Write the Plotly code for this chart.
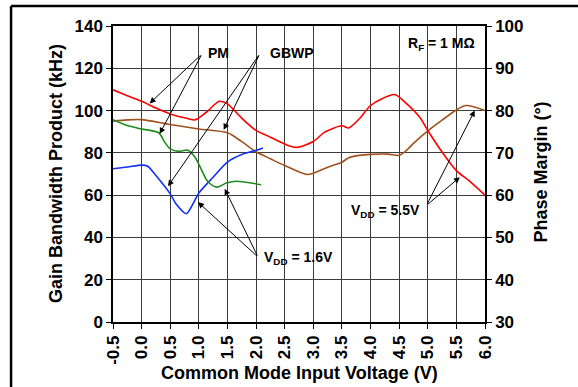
import plotly.graph_objects as go

# ---- data ----
# VDD = 5.5V, Phase Margin (deg, right axis) - red
pm55_x = [-0.5, -0.25, 0.0, 0.25, 0.5, 0.75, 0.93, 1.13, 1.36, 1.5, 1.75, 2.0, 2.25, 2.5, 2.7,
          3.0, 3.2, 3.5, 3.62, 3.8, 4.0, 4.2, 4.42, 4.6, 4.86, 5.0, 5.25, 5.5, 5.75, 6.0]
pm55_y = [84.9, 83.5, 82.2, 80.6, 79.2, 78.3, 77.8, 79.6, 82.2, 81.6, 78.2, 75.3, 73.7, 72.1, 71.3,
          72.7, 74.9, 76.4, 75.9, 78.0, 81.2, 82.8, 83.8, 82.0, 78.4, 75.3, 70.2, 65.8, 63.1, 60.0]

# VDD = 5.5V, GBWP (kHz, left axis) - brown
gb55_x = [-0.5, -0.25, 0.0, 0.5, 1.0, 1.5, 1.75, 2.0, 2.25, 2.5, 2.88, 3.0, 3.25, 3.5, 3.62,
          3.8, 4.0, 4.3, 4.5, 4.6, 4.75, 5.0, 5.25, 5.5, 5.67, 6.0]
gb55_y = [95.0, 95.6, 95.7, 93.4, 91.3, 89.5, 85.3, 80.5, 77.2, 74.0, 69.8, 70.4, 73.2, 75.6, 77.7,
          78.8, 79.3, 79.4, 78.8, 80.5, 84.5, 90.4, 95.5, 100.3, 102.4, 100.0]

# VDD = 1.6V, Phase Margin (deg, right axis) - green
pm16_x = [-0.5, -0.25, 0.0, 0.3, 0.4, 0.5, 0.65, 0.8, 0.93, 1.02, 1.16, 1.32, 1.48, 1.66, 2.09]
pm16_y = [77.85, 76.45, 75.65, 74.75, 72.6, 70.95, 70.35, 70.65, 69.0, 66.75, 63.15, 61.9, 62.85, 63.3, 62.45]

# VDD = 1.6V, GBWP (kHz, left axis) - blue
gb16_x = [-0.5, -0.25, 0.0, 0.1, 0.25, 0.5, 0.6, 0.78, 0.9, 1.0, 1.25, 1.5, 1.75, 2.0, 2.12]
gb16_y = [72.5, 73.3, 74.2, 73.8, 69.3, 60.6, 55.9, 51.2, 56.0, 61.0, 68.5, 75.6, 79.2, 81.2, 82.3]

x_ticks = [-0.5, 0.0, 0.5, 1.0, 1.5, 2.0, 2.5, 3.0, 3.5, 4.0, 4.5, 5.0, 5.5, 6.0]
x_ticklabels = ["-0.5", "0.0", "0.5", "1.0", "1.5", "2.0", "2.5", "3.0", "3.5", "4.0", "4.5", "5.0", "5.5", "6.0"]
left_ticks = [0, 20, 40, 60, 80, 100, 120, 140]
right_ticks = [30, 40, 50, 60, 70, 80, 90, 100]

FONT = "Liberation Sans, Arial, sans-serif"
GRID = "#3c3c3c"

fig = go.Figure()
fig.add_trace(go.Scatter(x=gb55_x, y=gb55_y, mode="lines", yaxis="y",
                         line=dict(color="#A0521E", width=1.6, shape="spline", smoothing=0.8)))
fig.add_trace(go.Scatter(x=gb16_x, y=gb16_y, mode="lines", yaxis="y",
                         line=dict(color="#1030F5", width=1.6, shape="spline", smoothing=0.8)))
fig.add_trace(go.Scatter(x=pm55_x, y=pm55_y, mode="lines", yaxis="y2",
                         line=dict(color="#FF0000", width=1.6, shape="spline", smoothing=0.8)))
fig.add_trace(go.Scatter(x=pm16_x, y=pm16_y, mode="lines", yaxis="y2",
                         line=dict(color="#1E8C1E", width=1.6, shape="spline", smoothing=0.8)))

tickfont = dict(family=FONT, size=17, color="black", weight="bold")

fig.update_layout(
    template="none",
    width=578, height=387,
    margin=dict(l=113, r=93, t=26, b=65, autoexpand=False),
    paper_bgcolor="white", plot_bgcolor="white",
    showlegend=False,
    font=dict(family=FONT, color="black"),
    xaxis=dict(range=[-0.5, 6.0], tickmode="array", tickvals=x_ticks, ticktext=x_ticklabels,
               tickangle=-90, tickfont=tickfont, ticks="outside", ticklen=5, tickcolor="black",
               showgrid=True, gridcolor=GRID, gridwidth=1, zeroline=False, automargin=False,
               showline=True, linecolor="black", linewidth=1.5, mirror=True),
    yaxis=dict(range=[0, 140], tickmode="array", tickvals=left_ticks, tickfont=tickfont,
               ticks="outside", ticklen=5, tickcolor="black", automargin=False,
               showgrid=True, gridcolor=GRID, gridwidth=1, zeroline=False,
               showline=True, linecolor="black", linewidth=1.5),
    yaxis2=dict(range=[30, 100], tickmode="array", tickvals=right_ticks, tickfont=tickfont,
                overlaying="y", side="right", ticks="outside", ticklen=5, tickcolor="black",
                automargin=False,
                showgrid=False, zeroline=False, showline=True, linecolor="black", linewidth=1.5),
)

ann = []
# axis titles
ann.append(dict(text="<b>Common Mode Input Voltage (V)</b>", xref="paper", yref="paper",
                x=0.5005, y=-0.172, xanchor="center", yanchor="middle", showarrow=False,
                font=dict(size=18, family=FONT)))
ann.append(dict(text="<b>Gain Bandwidth Product (kHz)</b>", xref="paper", yref="paper",
                x=-0.153, y=0.5, xanchor="center", yanchor="middle", textangle=-90, showarrow=False,
                font=dict(size=18, family=FONT)))
ann.append(dict(text="<b>Phase Margin (°)</b>", xref="paper", yref="paper",
                x=1.1505, y=0.508, xanchor="center", yanchor="middle", textangle=-90, showarrow=False,
                font=dict(size=18, family=FONT)))

lab = dict(size=14, family=FONT)
# labels
ann.append(dict(text="<b>PM</b>", x=1.13, y=127.0, xanchor="left", yanchor="middle", showarrow=False, font=lab))
ann.append(dict(text="<b>GBWP</b>", x=2.2, y=127.0, xanchor="left", yanchor="middle", showarrow=False, font=lab))
ann.append(dict(text="<b>R<sub>F</sub> = 1 MΩ</b>", x=5.86, y=131.5, xanchor="right", yanchor="middle",
                showarrow=False, font=lab))
ann.append(dict(text="<b>V<sub>DD</sub> = 1.6V</b>", x=2.11, y=30.5, xanchor="left", yanchor="middle",
                showarrow=False, font=lab))
ann.append(dict(text="<b>V<sub>DD</sub> = 5.5V</b>", x=4.9, y=52.5, xanchor="right", yanchor="middle",
                showarrow=False, font=lab))

arrows = [
    # (tail x, tail y, head x, head y)
    (1.055, 126.8, 0.141, 103.4),
    (1.055, 126.8, 0.316, 89.0),
    (2.063, 126.8, 1.434, 90.9),
    (2.063, 126.8, 0.461, 64.2),
    (2.034, 30.7, 0.985, 56.7),
    (2.034, 30.7, 1.452, 63.0),
    (4.976, 55.1, 5.82, 100.0),
    (4.976, 55.1, 5.56, 68.5),
]
for tx, ty, hx, hy in arrows:
    ann.append(dict(text="", x=hx, y=hy, ax=tx, ay=ty, xref="x", yref="y", axref="x", ayref="y",
                    showarrow=True, arrowhead=2, arrowsize=1.2, arrowwidth=1, arrowcolor="black",
                    standoff=0, startstandoff=0))
fig.update_layout(annotations=ann)

# outer frame (top and left edges visible; right/bottom lie outside the picture)
fig.add_shape(type="line", xref="paper", yref="paper", x0=-0.274, y0=1.0676, x1=1.3, y1=1.0676,
              line=dict(color="black", width=2.5), layer="above")
fig.add_shape(type="line", xref="paper", yref="paper", x0=-0.274, y0=1.0676, x1=-0.274, y1=-0.3,
              line=dict(color="black", width=2.5), layer="above")

fig.write_html("out.html", config={"displayModeBar": False},
               post_script="document.body.style.margin='0';document.body.style.overflow='hidden';")
